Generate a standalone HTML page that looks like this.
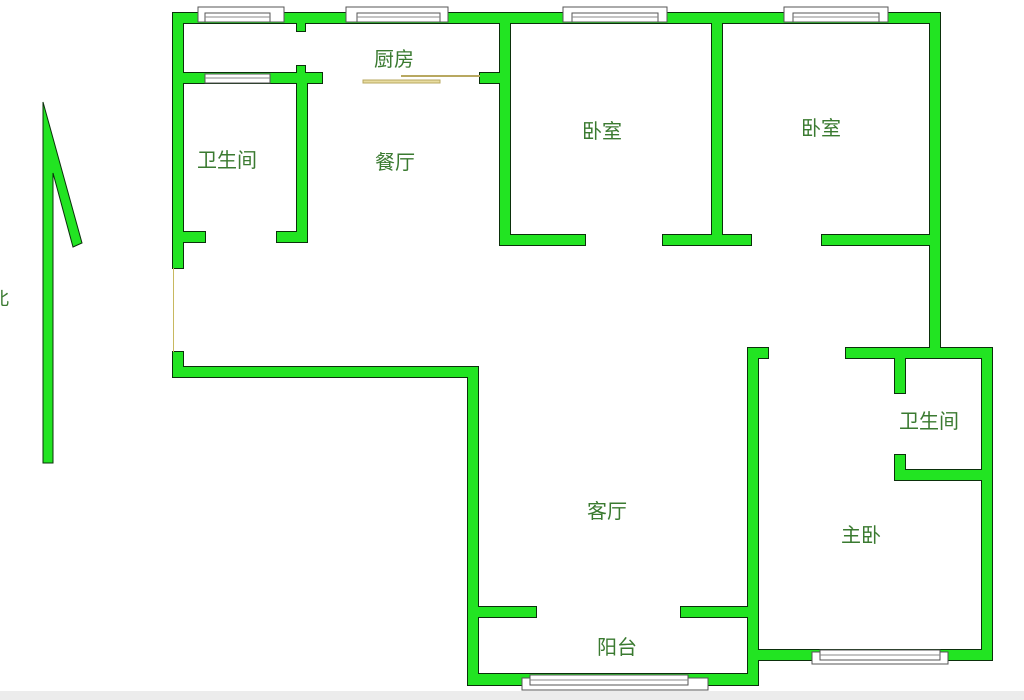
<!DOCTYPE html>
<html><head><meta charset="utf-8"><style>
html,body{margin:0;padding:0;background:#fff;}
svg{display:block}
text{font-family:"Liberation Sans","Noto Sans CJK SC",sans-serif;fill:#3a7a30;font-size:20px}
</style></head><body>
<svg width="1024" height="700" viewBox="0 0 1024 700" xmlns="http://www.w3.org/2000/svg">
<defs>
<g id="w">
<rect x="173" y="13" width="767" height="10"/>
<rect x="173" y="13" width="10" height="255"/>
<rect x="173" y="352" width="10" height="25"/>
<rect x="173" y="367" width="305" height="10"/>
<rect x="183" y="73" width="139" height="10"/>
<rect x="297" y="23" width="8" height="8"/>
<rect x="297" y="66" width="8" height="10"/>
<rect x="297" y="73" width="10" height="169"/>
<rect x="183" y="232" width="22" height="10"/>
<rect x="277" y="232" width="30" height="10"/>
<rect x="480" y="73" width="25" height="10"/>
<rect x="500" y="13" width="10" height="232"/>
<rect x="500" y="235" width="85" height="10"/>
<rect x="663" y="235" width="88" height="10"/>
<rect x="712" y="13" width="10" height="232"/>
<rect x="822" y="235" width="118" height="10"/>
<rect x="930" y="13" width="10" height="345"/>
<rect x="846" y="348" width="146" height="10"/>
<rect x="982" y="348" width="10" height="312"/>
<rect x="895" y="358" width="10" height="35"/>
<rect x="895" y="455" width="10" height="25"/>
<rect x="895" y="470" width="90" height="10"/>
<rect x="748" y="348" width="20" height="10"/>
<rect x="748" y="348" width="10" height="337"/>
<rect x="748" y="650" width="244" height="10"/>
<rect x="468" y="367" width="10" height="318"/>
<rect x="468" y="674" width="290" height="11"/>
<rect x="478" y="607" width="58" height="10"/>
<rect x="681" y="607" width="70" height="10"/>
</g>
</defs>
<g fill="#0b300b" stroke="#0b300b" stroke-width="2"><use href="#w"/></g>
<g fill="#22e422"><use href="#w"/></g>
<line x1="173.5" y1="268" x2="173.5" y2="352" stroke="#c8b860" stroke-width="1"/>
<g fill="#fff" stroke="#555" stroke-width="1">
<rect x="198" y="7" width="86" height="15"/><rect x="205" y="13" width="65" height="9"/>
<rect x="346" y="7" width="102" height="15"/><rect x="357" y="13" width="83" height="9"/>
<rect x="563" y="7" width="104" height="15"/><rect x="572" y="13" width="86" height="9"/>
<rect x="784" y="7" width="104" height="15"/><rect x="793" y="13" width="86" height="9"/>
<rect x="205" y="74" width="65" height="9"/>
<rect x="522" y="678" width="186" height="12"/><rect x="530" y="675" width="158" height="10"/>
<rect x="812" y="652" width="136" height="12"/><rect x="820" y="650" width="120" height="10"/>
</g>
<g stroke="#888" stroke-width="1">
<line x1="205" y1="17" x2="270" y2="17"/><line x1="357" y1="17" x2="440" y2="17"/>
<line x1="572" y1="17" x2="658" y2="17"/><line x1="793" y1="17" x2="879" y2="17"/>
<line x1="205" y1="78" x2="270" y2="78"/><line x1="530" y1="680" x2="688" y2="680"/>
<line x1="820" y1="655" x2="940" y2="655"/>
</g>
<rect x="363" y="80" width="77" height="3" fill="#e8dca0" stroke="#b8a860" stroke-width="1"/>
<line x1="401" y1="76" x2="480" y2="76" stroke="#b8a860" stroke-width="2"/>
<polygon points="43,102 82,243 73,247 53,173 53,463 43,463" fill="#22e422" stroke="#0b300b" stroke-width="1"/>
<text x="-9" y="305" style="font-size:18px">北</text>
<text x="374" y="66">厨房</text>
<text x="197" y="167">卫生间</text>
<text x="375" y="169">餐厅</text>
<text x="582" y="138">卧室</text>
<text x="801" y="135">卧室</text>
<text x="899" y="428">卫生间</text>
<text x="841" y="542">主卧</text>
<text x="587" y="518">客厅</text>
<text x="597" y="654">阳台</text>
<rect x="0" y="691" width="1024" height="9" fill="#ececec"/>
</svg>
</body></html>
